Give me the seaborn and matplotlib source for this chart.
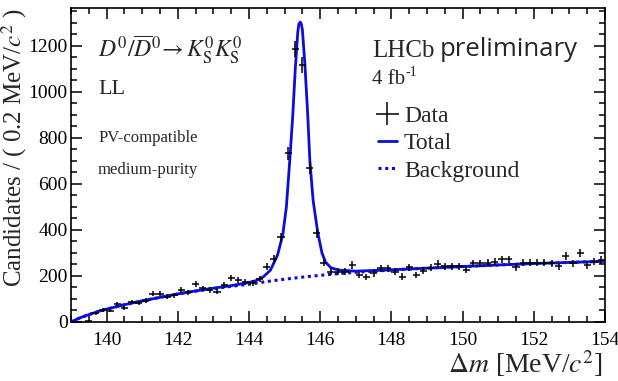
import matplotlib
matplotlib.use('Agg')
import matplotlib.pyplot as plt
import matplotlib.ticker as ticker
from matplotlib.lines import Line2D
import numpy as np
import pandas as pd
import seaborn as sns

# binned data, 0.2 MeV/c^2 bins (bin centres)
bin_centers = [139.5, 139.7, 139.9, 140.1, 140.3, 140.5, 140.7, 140.9, 141.1, 141.3,
               141.5, 141.7, 141.9, 142.1, 142.3, 142.5, 142.7, 142.9, 143.1, 143.3,
               143.5, 143.7, 143.9, 144.1, 144.3, 144.5, 144.7, 144.9, 145.1, 145.3,
               145.5, 145.7, 145.9, 146.1, 146.3, 146.5, 146.7, 146.9, 147.1, 147.3,
               147.5, 147.7, 147.9, 148.1, 148.3, 148.5, 148.7, 148.9, 149.1, 149.3,
               149.5, 149.7, 149.9, 150.1, 150.3, 150.5, 150.7, 150.9, 151.1, 151.3,
               151.5, 151.7, 151.9, 152.1, 152.3, 152.5, 152.7, 152.9, 153.1, 153.3,
               153.5, 153.7, 153.9]
counts = [4, 38, 52, 49, 78, 62, 88, 84, 93, 122,
          122, 110, 117, 139, 129, 166, 146, 139, 132, 161,
          190, 183, 175, 168, 186, 241, 273, 368, 733, 1185,
          1117, 668, 386, 258, 219, 219, 219, 248, 204, 195,
          212, 233, 233, 219, 197, 238, 204, 223, 235, 254,
          243, 243, 243, 226, 255, 255, 258, 262, 272, 272,
          238, 258, 258, 258, 258, 255, 243, 287, 255, 300,
          248, 262, 270]

# fit curves
total_x = [139.0, 139.25, 139.5, 139.75, 140.0, 140.5, 141.0, 141.5, 142.0, 142.5,
           143.0, 143.5, 144.0, 144.2, 144.4, 144.6, 144.8, 144.95, 145.05, 145.16,
           145.23, 145.3, 145.37, 145.4, 145.44, 145.47, 145.5, 145.57, 145.65, 145.71,
           145.8, 145.93, 146.05, 146.15, 146.3, 146.5, 147.0, 148.0, 149.0, 150.0,
           151.0, 152.0, 153.0, 154.0]
total_y = [0, 18, 32, 45, 56, 75, 92, 107, 122, 135,
           147, 158, 172, 180, 196, 225, 290, 380, 500, 735,
           900, 1100, 1260, 1295, 1304, 1295, 1270, 1120, 900, 700,
           530, 390, 300, 260, 236, 226, 221, 227, 234, 241,
           248, 254, 259, 264]
bkg_x = [139.0, 139.25, 139.5, 139.75, 140.0, 140.5, 141.0, 141.5, 142.0, 142.5,
         143.0, 143.5, 144.0, 144.5, 145.0, 145.5, 146.0, 146.5, 147.0, 148.0,
         149.0, 150.0, 151.0, 152.0, 153.0, 154.0]
bkg_y = [0, 18, 32, 45, 56, 75, 92, 107, 122, 134,
         145, 155, 164, 176, 186, 195, 203, 210, 216, 226,
         234, 241, 248, 254, 259, 264]

BLUE = '#0c0cdc'

sns.set_theme(style='ticks')
plt.rcParams['font.family'] = ['Liberation Serif', 'DejaVu Serif']
plt.rcParams['mathtext.fontset'] = 'stix'

fig = plt.figure(figsize=(6.18, 3.81), dpi=100)
ax = fig.add_axes([71 / 618, 1 - 322 / 381, 534 / 618, 314 / 381])

bkg = pd.DataFrame({'dm': bkg_x, 'n': bkg_y})
tot = pd.DataFrame({'dm': total_x, 'n': total_y})

sns.lineplot(data=bkg, x='dm', y='n', ax=ax, color=BLUE, lw=2.2,
             linestyle=(0, (1, 1.2)), sort=False)
sns.lineplot(data=tot, x='dm', y='n', ax=ax, color=BLUE, lw=2.0, sort=False)

eb = ax.errorbar(bin_centers, counts, xerr=0.1, yerr=np.sqrt(counts), fmt='none',
                 ecolor='black', elinewidth=1.1, capsize=0, zorder=5)

ax.set_xlim(139, 154)
ax.set_ylim(0, 1365)
ax.xaxis.set_major_locator(ticker.MultipleLocator(2))
ax.xaxis.set_minor_locator(ticker.MultipleLocator(0.5))
ax.yaxis.set_major_locator(ticker.MultipleLocator(200))
ax.yaxis.set_minor_locator(ticker.MultipleLocator(50))
ax.tick_params(which='both', direction='in', top=True, right=True, width=1.1, colors='black')
ax.tick_params(which='major', length=8, labelsize=14)
ax.tick_params(which='minor', length=4.5)
ax.tick_params(axis='x', which='major', pad=7)
ax.tick_params(axis='y', which='major', pad=2.5)
for s in ax.spines.values():
    s.set_linewidth(1.2)
    s.set_color('black')

ax.set_ylabel('Candidates / ( 0.2 MeV/$c^{2}$ )', fontsize=18, loc='top')
ax.yaxis.set_label_coords(-0.078, 1.0)
ax.set_xlabel(r'$\Delta m$ [MeV/$c^{2}$]', fontsize=20, loc='right')
ax.xaxis.set_label_coords(0.997, -0.083)
ax.xaxis.label.set_va('top')

ax.text(0.0506, 0.866, r'$D^0/\overline{D}^0\!\rightarrow K^0_{\rm S}K^0_{\rm S}$',
        transform=ax.transAxes, fontsize=17, va='center')
ax.text(0.0506, 0.742, 'LL', transform=ax.transAxes, fontsize=16, va='center')
ax.text(0.0506, 0.586, 'PV-compatible', transform=ax.transAxes, fontsize=12, va='center')
ax.text(0.0506, 0.484, 'medium-purity', transform=ax.transAxes, fontsize=12, va='center')

lhcb = ax.text(0.5637, 0.844, 'LHCb', transform=ax.transAxes, fontsize=18, va='baseline')
ax.annotate('preliminary', xy=(1, 0), xycoords=lhcb, xytext=(4, 0),
            textcoords='offset points', fontsize=18.5, va='bottom',
            family=['Open Sans', 'DejaVu Sans'])
lumi = ax.text(0.5637, 0.771, '4 fb', transform=ax.transAxes, fontsize=15, va='center')
ax.annotate('-1', xy=(1, 1), xycoords=lumi, xytext=(0.5, 3),
            textcoords='offset points', fontsize=10, va='top')

h_tot = Line2D([], [], color=BLUE, lw=2.0)
h_bkg = Line2D([], [], color=BLUE, lw=2.2, linestyle=(0, (1, 1.2)))
ax.legend([eb, h_tot, h_bkg], ['Data', 'Total', 'Background'], loc='upper left',
          bbox_to_anchor=(0.575, 0.69), frameon=False, fontsize=17, handlelength=0.8,
          handletextpad=0.3, labelspacing=0.25, borderpad=0, borderaxespad=0)

fig.savefig('out.png', dpi=100)
